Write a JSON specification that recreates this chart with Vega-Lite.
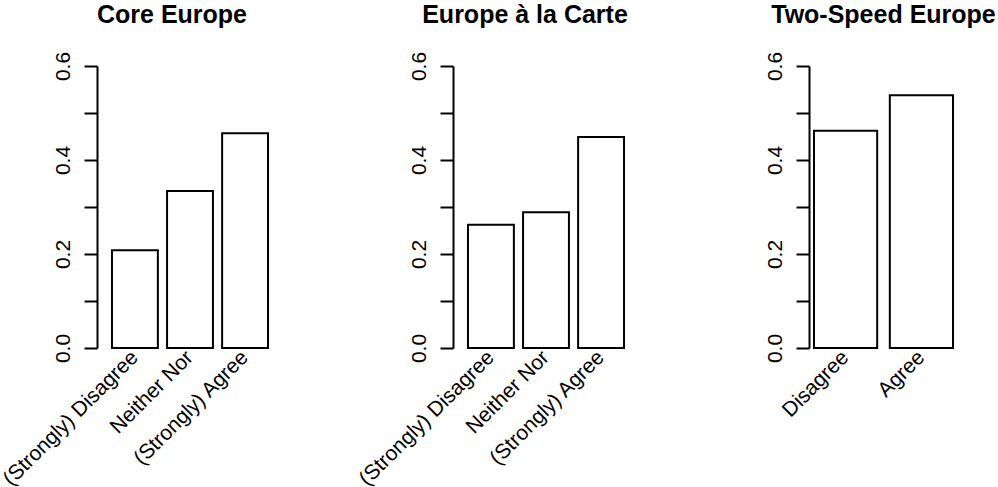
{
  "$schema": "https://vega.github.io/schema/vega-lite/v6.json",
  "background": "white",
  "padding": {"left": -2, "top": 2, "right": 5, "bottom": 5},
  "bounds": "flush",
  "spacing": 170,
  "datasets": {
    "d": [
      {"panel": "Core Europe", "cat": "(Strongly) Disagree", "ord": 1, "share": 0.208},
      {"panel": "Core Europe", "cat": "Neither Nor", "ord": 2, "share": 0.334},
      {"panel": "Core Europe", "cat": "(Strongly) Agree", "ord": 3, "share": 0.457},
      {"panel": "Europe à la Carte", "cat": "(Strongly) Disagree", "ord": 1, "share": 0.262},
      {"panel": "Europe à la Carte", "cat": "Neither Nor", "ord": 2, "share": 0.289},
      {"panel": "Europe à la Carte", "cat": "(Strongly) Agree", "ord": 3, "share": 0.449},
      {"panel": "Two-Speed Europe", "cat": "Disagree", "ord": 1, "share": 0.462},
      {"panel": "Two-Speed Europe", "cat": "Agree", "ord": 2, "share": 0.538}
    ]
  },
  "config": {
    "font": "Liberation Sans",
    "view": {"stroke": null},
    "title": {"fontSize": 25, "fontWeight": "bold", "color": "#000", "baseline": "alphabetic", "offset": 23.5},
    "axis": {
      "domainColor": "#000", "domainWidth": 2, "tickColor": "#000", "tickWidth": 2,
      "labelColor": "#000", "labelFontSize": 21, "labelFont": "Liberation Sans", "grid": false, "title": null
    },
    "bar": {"fill": "white", "stroke": "#000", "strokeWidth": 2}
  },
  "hconcat": [
    {
      "title": {"text": "Core Europe", "dx": -18},
      "width": 186, "height": 282,
      "data": {"name": "d"},
      "transform": [{"filter": "datum.panel == 'Core Europe'"}],
      "mark": "bar",
      "encoding": {
        "x": {"field": "cat", "type": "nominal", "sort": {"field": "ord"},
              "scale": {"paddingInner": 0.1667, "paddingOuter": 0.272},
              "axis": {"domain": false, "ticks": false, "labelAngle": -45, "labelAlign": "right", "labelBaseline": "middle", "labelPadding": 6, "labelLimit": 400}},
        "y": {"field": "share", "type": "quantitative", "scale": {"domain": [0, 0.6], "nice": false},
              "axis": {"values": [0, 0.1, 0.2, 0.3, 0.4, 0.5, 0.6], "tickSize": 13, "labelAngle": -90, "labelAlign": "center", "labelBaseline": "alphabetic", "labelPadding": 15,
                       "labelExpr": "round(datum.value*10) % 2 == 0 ? format(datum.value, '.1f') : ''"}}
      }
    },
    {
      "title": {"text": "Europe à la Carte", "dx": -21},
      "width": 186, "height": 282,
      "data": {"name": "d"},
      "transform": [{"filter": "datum.panel == 'Europe à la Carte'"}],
      "mark": "bar",
      "encoding": {
        "x": {"field": "cat", "type": "nominal", "sort": {"field": "ord"},
              "scale": {"paddingInner": 0.1667, "paddingOuter": 0.272},
              "axis": {"domain": false, "ticks": false, "labelAngle": -45, "labelAlign": "right", "labelBaseline": "middle", "labelPadding": 6, "labelLimit": 400}},
        "y": {"field": "share", "type": "quantitative", "scale": {"domain": [0, 0.6], "nice": false},
              "axis": {"values": [0, 0.1, 0.2, 0.3, 0.4, 0.5, 0.6], "tickSize": 13, "labelAngle": -90, "labelAlign": "center", "labelBaseline": "alphabetic", "labelPadding": 15,
                       "labelExpr": "round(datum.value*10) % 2 == 0 ? format(datum.value, '.1f') : ''"}}
      }
    },
    {
      "title": {"text": "Two-Speed Europe"},
      "width": 149, "height": 282,
      "data": {"name": "d"},
      "transform": [{"filter": "datum.panel == 'Two-Speed Europe'"}],
      "mark": "bar",
      "encoding": {
        "x": {"field": "cat", "type": "nominal", "sort": {"field": "ord"},
              "scale": {"paddingInner": 0.1667, "paddingOuter": 0.066},
              "axis": {"domain": false, "ticks": false, "labelAngle": -45, "labelAlign": "right", "labelBaseline": "middle", "labelPadding": 6, "labelLimit": 400}},
        "y": {"field": "share", "type": "quantitative", "scale": {"domain": [0, 0.6], "nice": false},
              "axis": {"values": [0, 0.1, 0.2, 0.3, 0.4, 0.5, 0.6], "tickSize": 13, "labelAngle": -90, "labelAlign": "center", "labelBaseline": "alphabetic", "labelPadding": 15,
                       "labelExpr": "round(datum.value*10) % 2 == 0 ? format(datum.value, '.1f') : ''"}}
      }
    }
  ]
}
